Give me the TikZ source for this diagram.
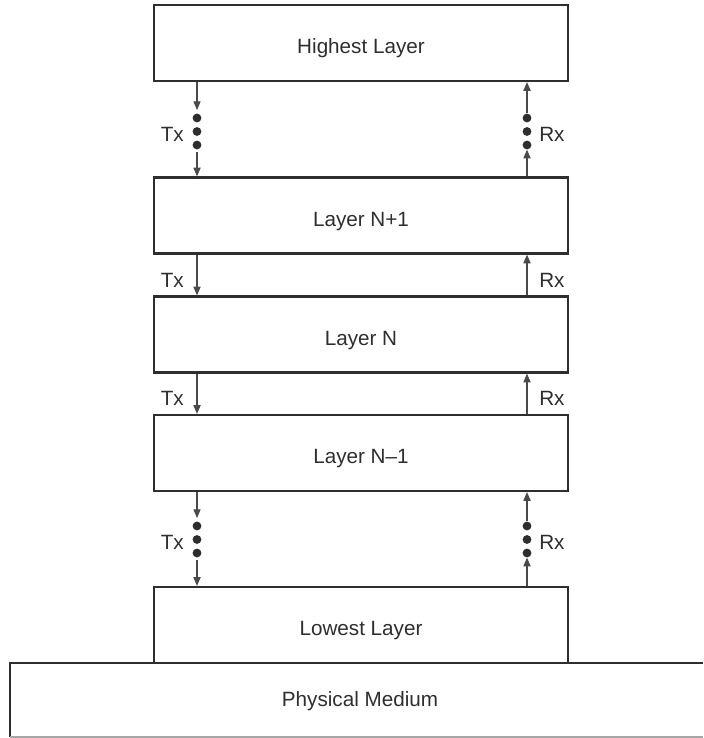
\documentclass[tikz,border=0pt]{standalone}
\usepackage{fontspec}
\setmainfont{Liberation Sans}
\usetikzlibrary{arrows.meta}
\definecolor{ink}{HTML}{2E2E2E}
\definecolor{wire}{HTML}{4A4A4A}
\begin{document}
\begin{tikzpicture}[x=0.75pt,y=-0.75pt,
  layer/.style={draw=ink, line width=1.7pt, minimum width=310.5pt,
    minimum height=57pt, inner sep=0pt, text=ink,
    text height=16pt, text depth=0pt,
    font=\fontsize{15.5}{18}\selectfont},
  arr/.style={draw=wire, line width=0.8pt,
    -{Triangle[length=6.5pt,width=5.4pt]}},
  dotn/.style={circle, fill=ink, inner sep=0pt, minimum size=6.6pt},
  lbl/.style={text=ink, inner sep=0pt, font=\fontsize{15.5}{18}\selectfont}]
\useasboundingbox (0,0) rectangle (703,738);

% protocol layers
\node[layer] (hi)  at (361,43)  {Highest Layer};
\node[layer] (np1) at (361,215.5) {Layer N+1};
\node[layer] (n)   at (361,334.5) {Layer N};
\node[layer] (nm1) at (361,453) {Layer N--1};
\node[layer] (lo)  at (361,625) {Lowest Layer};

% physical medium (open to the right)
\draw[ink, line width=1.7pt] (703,663) -- (10,663) -- (10,737);
\draw[gray!70, line width=1.2pt] (10,737) -- (703,737);
\node[text=ink, font=\fontsize{15.5}{18}\selectfont] (phys) at (360,701) {Physical Medium};

% dots standing for the omitted layers
\foreach \nm/\x/\y in {ta/197/118, tb/197/131.5, tc/197/145,
                       ra/527/118, rb/527/131.5, rc/527/145,
                       td/197/526, te/197/539.5, tf/197/553,
                       rd/527/526, re/527/539.5, rf/527/553}
  \node[dotn] (\nm) at (\x,\y) {};

% transmit path (downwards)
\draw[arr, shorten >=2.5pt] (hi.south -| ta) -- (ta.north);
\draw[arr] ([yshift=-2pt]tc.south) -- (np1.north -| tc);
\draw[arr] (np1.south -| ta) -- (n.north -| ta);
\draw[arr] (n.south -| ta) -- (nm1.north -| ta);
\draw[arr, shorten >=2.5pt] (nm1.south -| td) -- (td.north);
\draw[arr] ([yshift=-2pt]tf.south) -- (lo.north -| tf);

% receive path (upwards)
\draw[arr] (np1.north -| rc) -- (rc.south);
\draw[arr] (ra.north) -- (hi.south -| ra);
\draw[arr] (n.north -| ra) -- (np1.south -| ra);
\draw[arr] (nm1.north -| ra) -- (n.south -| ra);
\draw[arr] (lo.north -| rf) -- (rf.south);
\draw[arr] (rd.north) -- (nm1.south -| rd);

% Tx / Rx labels
\node[lbl, anchor=east] (tx1) at (184,134) {Tx};
\node[lbl, anchor=west] (rx1) at (539,134) {Rx};
\node[lbl, anchor=east] (tx2) at (184,280) {Tx};
\node[lbl, anchor=west] (rx2) at (539,280) {Rx};
\node[lbl, anchor=east] (tx3) at (184,398) {Tx};
\node[lbl, anchor=west] (rx3) at (539,398) {Rx};
\node[lbl, anchor=east] (tx4) at (184,542) {Tx};
\node[lbl, anchor=west] (rx4) at (539,542) {Rx};
\end{tikzpicture}
\end{document}
